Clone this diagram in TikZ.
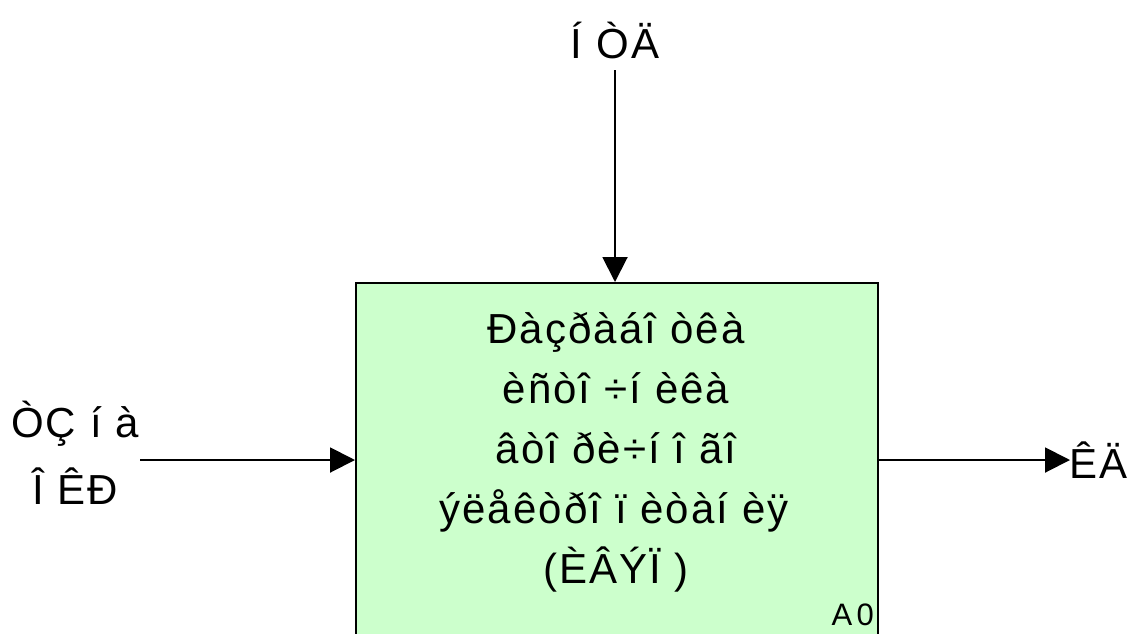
\documentclass[tikz,border=0pt]{standalone}
\usepackage{fontspec}
\setmainfont{Liberation Sans}[LetterSpace=5]
\usetikzlibrary{arrows.meta}
\definecolor{boxgreen}{HTML}{CCFFCC}
\tikzset{
  funcbox/.style={draw=black, line width=2pt, fill=boxgreen, inner sep=0pt},
  lbl/.style={inner sep=0pt, font=\fontsize{42}{48}\selectfont},
  tag/.style={inner sep=0pt, font=\fontsize{31}{34}\selectfont\addfontfeatures{LetterSpace=14}},
  flow/.style={line width=2pt, -{Triangle[length=25pt, width=25pt]}}
}
\begin{document}
\begin{tikzpicture}[x=1pt, y=-1pt]
  \clip (0,0) rectangle (1132,633);
  \fill[white] (0,0) rectangle (1132,633);

  % function block A0 (lower edge runs off the sheet)
  \node[funcbox, anchor=north west, minimum width=522pt, minimum height=420pt] (a0box) at (355,282) {};

  % block title, one node per line
  \node[lbl, anchor=base] (t1) at (616,343) {Ðàçðàáî òêà};
  \node[lbl, anchor=base] (t2) at (616,403) {èñòî ÷í èêà};
  \node[lbl, anchor=base] (t3) at (616,463) {âòî ðè÷í î ãî};
  \node[lbl, anchor=base] (t4) at (614,523) {ýëåêòðî ï èòàí èÿ};
  \node[lbl, anchor=base] (t5) at (616,583) {(ÈÂÝÏ )};
  \node[tag, anchor=base east] (num) at (874,625) {A0};

  % control (top)
  \node[lbl, anchor=base] (ntd) at (615,58) {Í ÒÄ};
  \coordinate (ctrlS) at (615,70);
  \draw[flow] (ctrlS) -- (ctrlS |- a0box.north);

  % input (left)
  \node[lbl, anchor=base] (tz1) at (75,437) {ÒÇ í à};
  \node[lbl, anchor=base] (tz2) at (75,504) {Î ÊÐ};
  \coordinate (inS) at (140,460);
  \draw[flow] (inS) -- (inS -| a0box.west);

  % output (right)
  \coordinate (outE) at (1070,460);
  \draw[flow] (outE -| a0box.east) -- (outE);
  \node[lbl, anchor=base west] (kd) at (1069,478) {ÊÄ};
\end{tikzpicture}
\end{document}
